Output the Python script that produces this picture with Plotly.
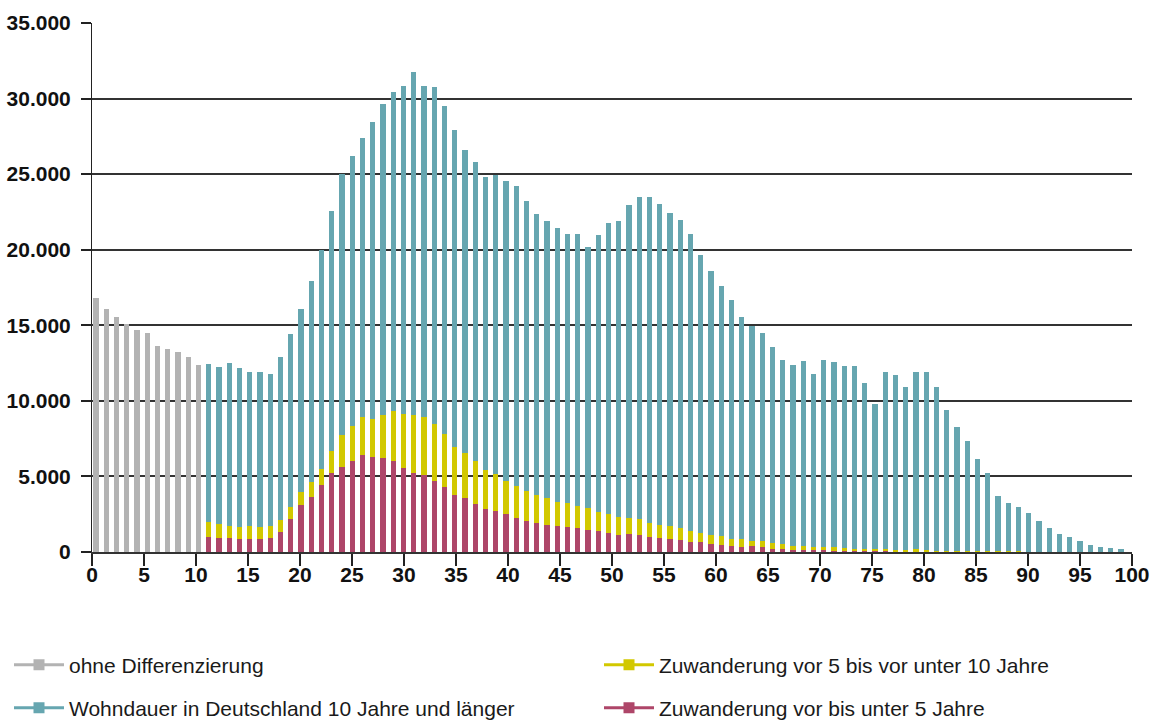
import plotly.graph_objects as go

# ---------------- data ----------------
ages_total = list(range(0, 11))          # ages without differentiation
ohne_diff = [16790, 16060, 15530, 15090, 14670, 14490, 13610, 13410, 13240, 12880, 12350]

ages = list(range(11, 101))
# Zuwanderung vor bis unter 5 Jahre
zuw_0_5 = [970, 930, 930, 860, 860, 860, 930, 1310, 2180, 3090,
           3630, 4410, 5220, 5620, 6000, 6400, 6270, 6200, 6000, 5550,
           5220, 5080, 4680, 4300, 3760, 3560, 3160, 2820, 2710, 2490,
           2220, 2020, 1940, 1810, 1740, 1680, 1610, 1480, 1410, 1280,
           1150, 1210, 1150, 1020, 950, 880, 820, 680, 630, 560,
           490, 420, 350, 370, 300, 230, 210, 160, 160, 130,
           150, 90, 90, 90, 90, 70, 70, 60, 50, 50,
           30, 30, 25, 20, 20, 20, 15, 15, 10, 10,
           10, 5, 5, 5, 5, 0, 0, 0, 0, 0]
# Zuwanderung vor 5 bis vor unter 10 Jahre
zuw_5_10 = [1015, 920, 790, 770, 860, 770, 790, 800, 770, 870,
            980, 1050, 1430, 2100, 2330, 2530, 2510, 2870, 3310, 3590,
            3850, 3830, 3780, 3490, 3180, 2980, 2890, 2600, 2440, 2180,
            2180, 1990, 1860, 1790, 1590, 1590, 1460, 1460, 1260, 1260,
            1190, 1060, 1060, 920, 860, 860, 790, 730, 660, 590,
            590, 460, 490, 330, 400, 340, 290, 270, 270, 180,
            150, 210, 180, 140, 140, 120, 110, 100, 100, 120,
            70, 60, 55, 60, 50, 50, 45, 35, 30, 30,
            20, 20, 15, 10, 5, 10, 5, 5, 0, 0]
# Wohndauer in Deutschland 10 Jahre und länger
wohn_10 = [10435, 10370, 10770, 10520, 10170, 10260, 10040, 10770, 11450, 12090,
           13300, 14490, 15900, 17310, 17870, 18450, 19660, 20570, 21120, 21690,
           22680, 21920, 22300, 21720, 20980, 20060, 19740, 19390, 19810, 19870,
           19800, 19205, 18550, 18280, 18090, 17750, 17950, 17220, 18280, 19210,
           19540, 20670, 21260, 21530, 21200, 20670, 20340, 19610, 18340, 17420,
           16500, 15770, 14680, 14260, 13770, 12970, 12180, 11920, 12190, 11450,
           12380, 12250, 12020, 12060, 10930, 9580, 11710, 11530, 10750, 11720,
           11790, 10810, 9300, 8170, 7250, 6060, 5150, 3630, 3180, 2920,
           2530, 2005, 1550, 1155, 960, 700, 435, 305, 240, 180]

x_ticks = list(range(0, 101, 5))
y_ticks = list(range(0, 35001, 5000))

names = ["ohne Differenzierung",
         "Zuwanderung vor 5 bis vor unter 10 Jahre",
         "Wohndauer in Deutschland 10 Jahre und länger",
         "Zuwanderung vor bis unter 5 Jahre"]

# ---------------- style ----------------
GRAY = "#b3b3b3"
TEAL = "#66a6b0"
YELLOW = "#d2c800"
MAGENTA = "#ae4669"
FONT = "Liberation Sans"
BARW = 0.5

fig = go.Figure()
common = dict(xaxis="x2", yaxis="y", width=BARW, showlegend=False,
              marker_line_width=0, hoverinfo="x+y")
fig.add_trace(go.Bar(x=ages, y=zuw_0_5, marker_color=MAGENTA, name=names[3], **common))
fig.add_trace(go.Bar(x=ages, y=zuw_5_10, marker_color=YELLOW, name=names[1], **common))
fig.add_trace(go.Bar(x=ages, y=wohn_10, marker_color=TEAL, name=names[2], **common))
fig.add_trace(go.Bar(x=ages_total, y=ohne_diff, marker_color=GRAY, name=names[0], **common))

# legend entries (line + square symbol), placed on the tick axis
colors = [GRAY, YELLOW, TEAL, MAGENTA]
legend_ids = ["legend", "legend2", "legend3", "legend4"]
for nm, col, lg in zip(names, colors, legend_ids):
    fig.add_trace(go.Scatter(x=[None], y=[None], xaxis="x", yaxis="y",
                             mode="lines+markers", name=nm, legend=lg,
                             line=dict(color=col, width=3),
                             marker=dict(symbol="square", size=11, color=col)))

W, H = 1152, 720
L, R, T, B = 92, 20, 23, 168
pw, ph = W - L - R, H - T - B

def px_x(p):
    return (p - L) / pw

def px_y(p):
    return (H - B - p) / ph

leg_font = dict(family=FONT, size=21, color="#1a1a1a")
leg_common = dict(font=leg_font, bgcolor="rgba(0,0,0,0)", yanchor="middle",
                  xanchor="left", orientation="h", borderwidth=0, itemwidth=50)

tickfont = dict(family=FONT, size=21, color="#111111", weight="bold")

fig.update_layout(
    width=W, height=H,
    margin=dict(l=L, r=R, t=T, b=B, autoexpand=False),
    plot_bgcolor="white", paper_bgcolor="white",
    barmode="stack", bargap=0,
    separators=",.",
    xaxis=dict(range=[0, 100], tickvals=x_ticks, ticks="outside", ticklen=12,
               tickwidth=1.5, tickcolor="#222222", showline=True, linecolor="#333333",
               linewidth=2, showgrid=False, zeroline=False, tickfont=tickfont,
               ticklabelstandoff=-9, fixedrange=True),
    xaxis2=dict(overlaying="x", range=[-0.39, 101.07], visible=False, fixedrange=True),
    yaxis=dict(range=[0, 35000], tickvals=y_ticks, tickformat=",d", ticks="outside",
               ticklen=10, tickwidth=1.5, tickcolor="#222222", showline=True,
               linecolor="#222222", linewidth=1, showgrid=True, gridcolor="#333333",
               gridwidth=1.5, zeroline=False, tickfont=tickfont, ticklabelstandoff=6,
               fixedrange=True),
    legend=dict(x=px_x(9), y=px_y(665), **leg_common),
    legend2=dict(x=px_x(599), y=px_y(665), **leg_common),
    legend3=dict(x=px_x(9), y=px_y(708), **leg_common),
    legend4=dict(x=px_x(599), y=px_y(708), **leg_common),
)

# remove the browser's default page margin so the 1152x720 figure fills the window
fig.write_html("out.html",
               config={"displayModeBar": False},
               post_script="document.body.style.margin='0';document.body.style.overflow='hidden';")
